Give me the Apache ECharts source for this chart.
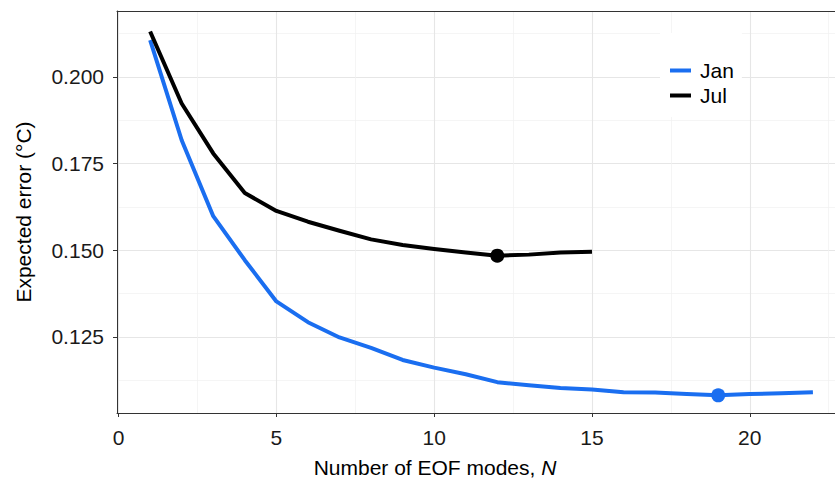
<!DOCTYPE html>
<html>
<head>
<meta charset="utf-8">
<script src="https://cdn.jsdelivr.net/npm/echarts@6/dist/echarts.min.js"></script>
<style>
  html, body { margin: 0; padding: 0; background: #fff; }
  #eof-chart { width: 835px; height: 479px; }
</style>
</head>
<body>
<div id="eof-chart"></div>
<script>
// Expected error vs number of EOF modes
const modesJan = [1, 2, 3, 4, 5, 6, 7, 8, 9, 10, 11, 12, 13, 14, 15, 16, 17, 18, 19, 20, 21, 22];
const errorJan = [0.2106, 0.1817, 0.1598, 0.1471, 0.1352, 0.1292, 0.1248, 0.1218, 0.1183, 0.1161, 0.1142,
  0.1119, 0.1110, 0.1102, 0.1098, 0.1090, 0.1089, 0.1085, 0.1081, 0.1085, 0.1087, 0.1090];
const modesJul = [1, 2, 3, 4, 5, 6, 7, 8, 9, 10, 11, 12, 13, 14, 15];
const errorJul = [0.2131, 0.1923, 0.1779, 0.1665, 0.1613, 0.1582, 0.1556, 0.1531, 0.1515, 0.1503, 0.1493,
  0.1484, 0.1487, 0.1493, 0.1495];

// tick / gridline values
const xTicks = [0, 5, 10, 15, 20];
const xMinor = [2.5, 7.5, 12.5, 17.5, 22.5];
const yTicks = [0.125, 0.15, 0.175, 0.2];
const yMinor = [0.1125, 0.1375, 0.1625, 0.1875, 0.2125];

const font = "'Liberation Sans', Arial, Helvetica, sans-serif";
const janColor = "#1a6ef0";
const julColor = "#000000";

// mark the minimum of a curve with a dot
function withMinDot(modes, errors) {
  let best = 0;
  errors.forEach((v, i) => { if (v < errors[best]) best = i; });
  return modes.map((n, i) =>
    i === best ? { value: [n, errors[i]], symbol: "circle", symbolSize: 14 } : [n, errors[i]]
  );
}

const chart = echarts.init(document.getElementById("eof-chart"), null, { renderer: "svg" });

const majorLine = { show: true, lineStyle: { color: "#e6e6e6", width: 1.1 } };
const minorLine = { show: true, lineStyle: { color: "#f1f1f1", width: 0.7 } };

const option = {
  animation: false,
  backgroundColor: "#fff",
  textStyle: { fontFamily: font },
  grid: { left: 117, top: 11, right: -1, bottom: 66, containLabel: false },
  legend: {
    data: ["Jan", "Jul"],
    orient: "vertical",
    left: 660,
    top: 33,
    padding: [27, 8, 11, 10],
    backgroundColor: "#fff",
    icon: "rect",
    itemWidth: 21,
    itemHeight: 4,
    itemGap: 4,
    textStyle: { fontSize: 21, color: "#000", fontFamily: font, padding: [0, 0, 0, 4] },
  },
  xAxis: [
    {
      type: "value",
      position: "bottom",
      min: -0.05,
      max: 22.7,
      minInterval: 5,
      maxInterval: 5,
      axisLine: { onZero: false, lineStyle: { color: "#333", width: 1 } },
      axisTick: { show: true, length: 4, customValues: xTicks, lineStyle: { color: "#333" } },
      axisLabel: {
        customValues: xTicks,
        margin: 14,
        fontSize: 21,
        color: "#1a1a1a",
        fontFamily: font,
      },
      splitLine: majorLine,
    },
    {
      // top border + minor vertical gridlines
      type: "value",
      position: "top",
      min: -0.05,
      max: 22.7,
      axisLine: { show: true, onZero: false, lineStyle: { color: "#333", width: 1 } },
      axisTick: { show: false, customValues: xMinor },
      axisLabel: { show: false },
      splitLine: minorLine,
    },
  ],
  yAxis: [
    {
      type: "value",
      position: "left",
      min: 0.103,
      max: 0.219,
      minInterval: 0.025,
      maxInterval: 0.025,
      name: "Expected error (°C)",
      nameLocation: "middle",
      nameRotate: 90,
      nameGap: 83,
      nameTextStyle: { fontSize: 21, color: "#000", fontFamily: font },
      axisLine: { show: true, onZero: false, lineStyle: { color: "#333", width: 1 } },
      axisTick: { show: true, length: 4, customValues: yTicks, lineStyle: { color: "#333" } },
      axisLabel: {
        customValues: yTicks,
        margin: 13,
        fontSize: 21,
        color: "#1a1a1a",
        fontFamily: font,
        formatter: (v) => v.toFixed(3),
      },
      splitLine: majorLine,
    },
    {
      // minor horizontal gridlines
      type: "value",
      position: "right",
      min: 0.103,
      max: 0.219,
      axisLine: { show: false },
      axisTick: { show: false, customValues: yMinor },
      axisLabel: { show: false },
      splitLine: minorLine,
    },
  ],
  graphic: [
    {
      type: "text",
      x: 435,
      y: 467,
      style: {
        text: "Number of EOF modes, {i|N}",
        fontSize: 21,
        fontFamily: font,
        fill: "#000",
        align: "center",
        verticalAlign: "middle",
        rich: { i: { fontStyle: "italic", fontSize: 21, fontFamily: font } },
      },
    },
  ],
  series: [
    {
      name: "Jan",
      type: "line",
      xAxisIndex: 0,
      yAxisIndex: 0,
      data: withMinDot(modesJan, errorJan),
      symbol: "none",
      color: janColor,
      lineStyle: { width: 4, color: janColor, cap: "butt", join: "round" },
      itemStyle: { color: janColor },
    },
    {
      name: "Jul",
      type: "line",
      xAxisIndex: 0,
      yAxisIndex: 0,
      data: withMinDot(modesJul, errorJul),
      symbol: "none",
      color: julColor,
      lineStyle: { width: 4, color: julColor, cap: "butt", join: "round" },
      itemStyle: { color: julColor },
    },
  ],
};

chart.setOption(option);
window.addEventListener("resize", () => chart.resize());
</script>
</body>
</html>
